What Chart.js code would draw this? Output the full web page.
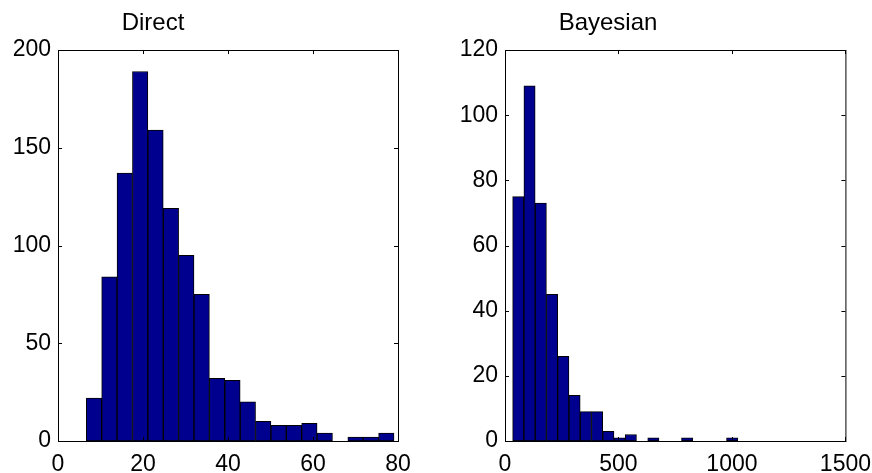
<!DOCTYPE html>
<html>
<head>
<meta charset="utf-8">
<script src="https://cdn.jsdelivr.net/npm/chart.js@4/dist/chart.umd.min.js"></script>
<style>
    body { margin: 0; background: #fff; }
    .panel { position: absolute; top: 0; }
</style>
</head>
<body>
<div class="panel" style="left:0"><canvas id="direct" width="440" height="473"></canvas></div>
<div class="panel" style="left:440px"><canvas id="bayes" width="432" height="473"></canvas></div>
<script>
// histogram bin centres and counts
const directBins = [8.47, 12.09, 15.71, 19.33, 22.95, 26.57, 30.19, 33.81, 37.43, 41.05,
    44.67, 48.29, 51.91, 55.53, 59.15, 62.77, 66.39, 70.01, 73.63, 77.25]
const directCounts = [22, 84, 137, 189, 159, 119, 95, 75, 32, 31, 20, 10, 8, 8, 9, 4, 0, 2, 2, 4]
const directXTicks = [0, 20, 40, 60, 80]
const directYTicks = [0, 50, 100, 150, 200]

const bayesBins = [58.5, 108.1, 157.7, 207.3, 256.9, 306.5, 356.1, 405.7, 455.3, 504.9,
    554.5, 604.1, 653.7, 703.3, 752.9, 802.5, 852.1, 901.7, 951.3, 1000.9]
const bayesCounts = [75, 109, 73, 45, 26, 14, 9, 9, 3, 1, 2, 0, 1, 0, 0, 1, 0, 0, 0, 1]
const bayesXTicks = [0, 500, 1000, 1500]
const bayesYTicks = [0, 20, 40, 60, 80, 100, 120]

const tickFont = { family: '"Liberation Sans", Arial, sans-serif', size: 23 }

// box round the axes, inward ticks on all four sides, and the title
const frame = {
    id: 'frame',
    afterDraw(chart, args, opts) {
        const { ctx, chartArea: a, scales: { x, y } } = chart
        const len = 4
        ctx.save()
        ctx.strokeStyle = '#000'
        ctx.lineWidth = 1
        ctx.strokeRect(a.left + 0.5, a.top + 0.5, a.right - a.left, a.bottom - a.top)
        ctx.beginPath()
        x.ticks.forEach(t => {
            const px = Math.round(x.getPixelForValue(t.value)) + 0.5
            ctx.moveTo(px, a.bottom); ctx.lineTo(px, a.bottom - len)
            ctx.moveTo(px, a.top); ctx.lineTo(px, a.top + len)
        })
        y.ticks.forEach(t => {
            const py = Math.round(y.getPixelForValue(t.value)) + 0.5
            ctx.moveTo(a.left, py); ctx.lineTo(a.left + len, py)
            ctx.moveTo(a.right, py); ctx.lineTo(a.right - len, py)
        })
        ctx.stroke()
        ctx.fillStyle = '#000'
        ctx.font = '24px "Liberation Sans", Arial, sans-serif'
        ctx.textAlign = 'center'
        ctx.textBaseline = 'alphabetic'
        ctx.fillText(opts.text, a.left + opts.offset, 29.5)
        ctx.restore()
    }
}

const makeHist = (id, bins, counts, xTicks, yTicks, padRight, yWidth, title, titleOffset) => {
    new Chart(document.getElementById(id), {
        type: 'bar',
        data: {
            datasets: [{
                data: bins.map((b, i) => ({ x: b, y: counts[i] })),
                backgroundColor: '#00008f',
                borderColor: '#000',
                borderWidth: 1,
                borderSkipped: false,
                barPercentage: 1,
                categoryPercentage: 1
            }]
        },
        options: {
            responsive: false,
            animation: false,
            layout: { padding: { top: 50, right: padRight, left: 0, bottom: 0 } },
            scales: {
                x: {
                    type: 'linear',
                    offset: false,
                    min: xTicks[0],
                    max: xTicks[xTicks.length - 1],
                    afterBuildTicks: s => { s.ticks = xTicks.map(v => ({ value: v })) },
                    afterFit: s => { s.height = 32 },
                    grid: { display: false, drawTicks: true, tickLength: 9, offset: false },
                    border: { display: false },
                    ticks: { font: tickFont, color: '#000', padding: 1, maxRotation: 0, autoSkip: false,
                        callback: v => String(v) }
                },
                y: {
                    min: yTicks[0],
                    max: yTicks[yTicks.length - 1],
                    afterBuildTicks: s => { s.ticks = yTicks.map(v => ({ value: v })) },
                    afterFit: s => { s.width = yWidth },
                    grid: { display: false, drawTicks: false },
                    border: { display: false },
                    ticks: { font: tickFont, color: '#000', padding: 7, callback: v => String(v) }
                }
            },
            plugins: {
                legend: { display: false },
                tooltip: { enabled: false },
                frame: { text: title, offset: titleOffset }
            }
        },
        plugins: [frame]
    })
}

makeHist('direct', directBins, directCounts, directXTicks, directYTicks, 42, 58, 'Direct', 95)
makeHist('bayes', bayesBins, bayesCounts, bayesXTicks, bayesYTicks, 26, 65, 'Bayesian', 103)
</script>
</body>
</html>
